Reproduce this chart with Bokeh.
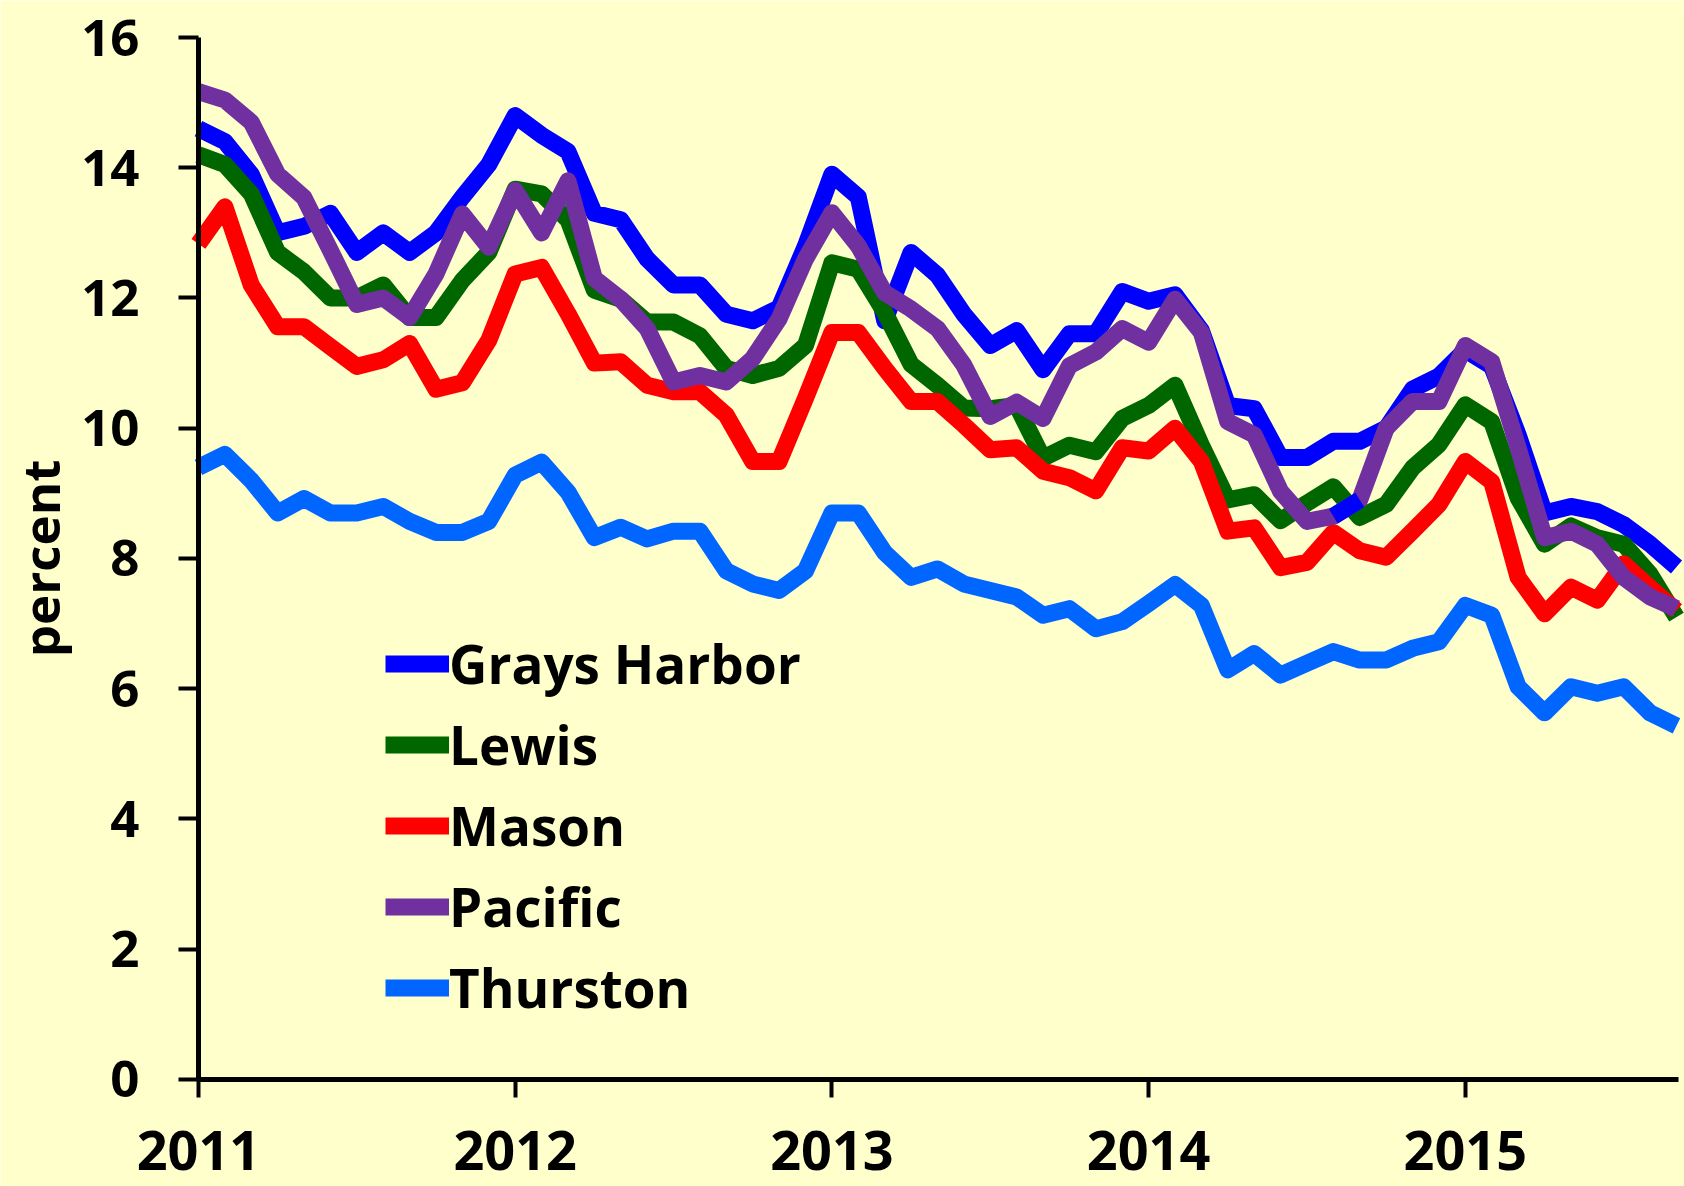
from bokeh.plotting import figure
from bokeh.models import Range1d, FixedTicker, Legend, LegendItem
from bokeh.embed import file_html
from bokeh.resources import INLINE

# ---- data (monthly unemployment rate, percent), Jan 2011 .. Sep 2015 ----
start_year = 2011
n_months = 57
year_ticks = [2011, 2012, 2013, 2014, 2015]
tick_labels = ["2011", "2012", "2013", "2014", "2015"]
y_ticks = [0, 2, 4, 6, 8, 10, 12, 14, 16]

series_names = ["Grays Harbor", "Lewis", "Mason", "Pacific", "Thurston"]
series_colors = ["#0000FF", "#006600", "#FF0000", "#7030A0", "#0066FF"]

grays_harbor = [14.6, 14.4, 13.9, 13.0, 13.1, 13.3, 12.7, 13.0, 12.7, 13.0, 13.55, 14.05,
                14.8, 14.5, 14.25, 13.3, 13.2, 12.6, 12.2, 12.2, 11.75, 11.65, 11.85, 12.8,
                13.9, 13.55, 11.65, 12.7, 12.35, 11.75, 11.27, 11.5, 10.9, 11.45, 11.45, 12.1,
                11.95, 12.05, 11.5, 10.35, 10.3, 9.55, 9.55, 9.8, 9.8, 10.0, 10.6, 10.8,
                11.2, 10.95, 9.9, 8.7, 8.8, 8.72, 8.52, 8.22, 7.87]
lewis = [14.2, 14.05, 13.6, 12.7, 12.4, 12.0, 12.0, 12.2, 11.7, 11.7, 12.27, 12.7,
         13.67, 13.6, 13.2, 12.12, 11.98, 11.63, 11.63, 11.42, 10.92, 10.81, 10.92, 11.27,
         12.54, 12.44, 11.78, 10.98, 10.66, 10.31, 10.3, 10.35, 9.54, 9.74, 9.64, 10.15,
         10.35, 10.66, 9.74, 8.9, 8.98, 8.58, 8.85, 9.1, 8.63, 8.83, 9.39, 9.75,
         10.36, 10.1, 8.93, 8.22, 8.5, 8.32, 8.22, 7.76, 7.1]
mason = [12.83, 13.4, 12.2, 11.56, 11.56, 11.25, 10.95, 11.05, 11.3, 10.6, 10.7, 11.35,
         12.37, 12.47, 11.76, 11.0, 11.02, 10.66, 10.56, 10.56, 10.2, 9.49, 9.49, 10.46,
         11.47, 11.47, 10.92, 10.41, 10.41, 10.05, 9.67, 9.7, 9.34, 9.24, 9.04, 9.7,
         9.65, 10.0, 9.49, 8.42, 8.47, 7.86, 7.94, 8.4, 8.12, 8.02, 8.42, 8.83,
         9.49, 9.18, 7.71, 7.15, 7.56, 7.36, 7.92, 7.55, 7.2]
pacific = [15.17, 15.04, 14.7, 13.9, 13.54, 12.73, 11.9, 12.0, 11.7, 12.37, 13.29, 12.78,
           13.65, 13.0, 13.8, 12.3, 11.98, 11.53, 10.71, 10.81, 10.71, 11.07, 11.68, 12.6,
           13.31, 12.8, 12.08, 11.83, 11.53, 10.97, 10.18, 10.4, 10.15, 10.96, 11.17, 11.53,
           11.32, 11.98, 11.47, 10.1, 9.9, 9.03, 8.57, 8.65, 8.9, 10.0, 10.41, 10.41,
           11.27, 11.02, 9.7, 8.32, 8.42, 8.22, 7.71, 7.41, 7.23]
thurston = [9.4, 9.6, 9.2, 8.7, 8.92, 8.7, 8.7, 8.8, 8.57, 8.4, 8.4, 8.57,
            9.28, 9.48, 9.02, 8.32, 8.48, 8.3, 8.42, 8.42, 7.81, 7.61, 7.51, 7.81,
            8.7, 8.7, 8.09, 7.71, 7.84, 7.61, 7.51, 7.41, 7.13, 7.23, 6.92, 7.03,
            7.31, 7.6, 7.28, 6.29, 6.54, 6.21, 6.39, 6.57, 6.44, 6.44, 6.62, 6.72,
            7.28, 7.13, 6.03, 5.63, 6.03, 5.93, 6.03, 5.63, 5.43]

# in the original one segment of the Pacific line (Aug -> Sep 2014) is drawn in blue
pacific_blue_segment = (43, 45)

x = [start_year + m / 12 for m in range(n_months)]

FONT = "Open Sans"
LW = 17

# visible window: the frame fills the whole canvas, axes are pinned at 2011 / 0
x_view = (2010.375, 2015.692)
y_view = (-1.643, 16.568)
x_axis_end = start_year + (n_months - 1 + 0.08) / 12

p = figure(width=1684, height=1186, output_backend="svg", toolbar_location=None,
           x_range=Range1d(*x_view), y_range=Range1d(*y_view),
           min_border=0, min_border_left=0, min_border_right=0,
           min_border_top=0, min_border_bottom=0)
p.background_fill_color = "#FFFFCC"
p.border_fill_color = "#FFFFCC"
p.outline_line_color = None
p.xgrid.visible = False
p.ygrid.visible = False

common = dict(line_width=LW, line_join="round", line_cap="butt")
r_gh = p.line(x, grays_harbor, line_color=series_colors[0], **common)
r_le = p.line(x, lewis, line_color=series_colors[1], **common)
r_ma = p.line(x, mason, line_color=series_colors[2], **common)
r_pa = p.line(x, pacific, line_color=series_colors[3], **common)
a, b = pacific_blue_segment
p.line(x[a:b], pacific[a:b], line_color=series_colors[0], **common)
r_th = p.line(x, thurston, line_color=series_colors[4], **common)

# axes
for ax in (p.xaxis[0], p.yaxis[0]):
    ax.axis_line_width = 5
    ax.axis_line_color = "black"
    ax.major_tick_line_width = 4
    ax.major_tick_line_color = "black"
    ax.major_tick_in = 0
    ax.minor_tick_line_color = None
    ax.major_label_text_font = FONT
    ax.major_label_text_font_style = "bold"
    ax.major_label_text_color = "black"

p.xaxis.fixed_location = 0
p.xaxis.bounds = (start_year, x_axis_end)
p.xaxis.ticker = FixedTicker(ticks=year_ticks)
p.xaxis.major_label_overrides = {t: l for t, l in zip(year_ticks, tick_labels)}
p.xaxis.major_tick_out = 18
p.xaxis.major_label_text_font_size = "54px"
p.xaxis.major_label_standoff = 34

p.yaxis.fixed_location = start_year
p.yaxis.bounds = (0, 16)
p.yaxis.ticker = FixedTicker(ticks=y_ticks)
p.yaxis.major_tick_out = 20
p.yaxis.major_label_text_font_size = "51px"
p.yaxis.major_label_standoff = 39
p.yaxis.axis_label = "percent"
p.yaxis.axis_label_text_font = FONT
p.yaxis.axis_label_text_font_style = "bold"
p.yaxis.axis_label_text_font_size = "51px"
p.yaxis.axis_label_text_color = "black"
p.yaxis.axis_label_standoff = 3

legend = Legend(items=[LegendItem(label=n, renderers=[r]) for n, r in
                       zip(series_names, [r_gh, r_le, r_ma, r_pa, r_th])],
                location=(385, 158), orientation="vertical",
                glyph_width=64, glyph_height=81, label_height=81, spacing=0,
                label_standoff=0, padding=0, margin=0,
                label_text_font=FONT, label_text_font_style="bold",
                label_text_font_size="53px", label_text_color="black",
                background_fill_alpha=0, border_line_alpha=0)
p.add_layout(legend, "center")

open("out.html", "w").write(file_html(p, INLINE))
